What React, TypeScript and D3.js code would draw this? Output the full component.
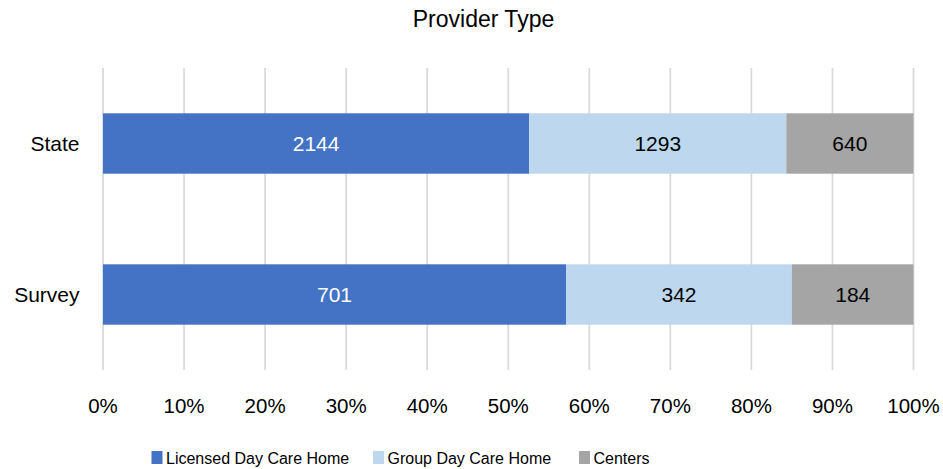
import * as d3 from "d3";
import { useEffect, useRef } from "react";

const categories = ["State", "Survey"];
const seriesNames = ["Licensed Day Care Home", "Group Day Care Home", "Centers"];
const licensed = [2144, 701];
const groupHome = [1293, 342];
const centers = [640, 184];
const colors = ["#4472C4", "#BDD7EE", "#A5A5A5"];
const labelColors = ["#ffffff", "#000000", "#000000"];
const ticks = [0, 0.1, 0.2, 0.3, 0.4, 0.5, 0.6, 0.7, 0.8, 0.9, 1];

const FONT = "'Liberation Sans', Arial, sans-serif";

function App() {
    const ref = useRef<SVGSVGElement>(null);

    useEffect(() => {
        document.body.style.margin = "0";

        const svg = d3.select(ref.current);
        svg.selectAll("*").remove();

        const left = 103;
        const right = 913.5;
        const top = 68;
        const bottom = 370;

        const rows = categories.map((c, i) => {
            const vals = [licensed[i], groupHome[i], centers[i]];
            const total = d3.sum(vals);
            let acc = 0;
            return {
                cat: c,
                segs: vals.map((v, k) => {
                    const s = { v, k, x0: acc / total, x1: (acc + v) / total };
                    acc += v;
                    return s;
                }),
            };
        });

        const x = d3.scaleLinear().domain([0, 1]).range([left, right]);
        const y = d3
            .scaleBand()
            .domain(categories)
            .range([top, bottom])
            .paddingInner(0.6)
            .paddingOuter(0.3);

        // title
        svg.append("text")
            .attr("x", 483.5)
            .attr("y", 27)
            .attr("text-anchor", "middle")
            .style("font-size", "23px")
            .attr("fill", "#000")
            .text("Provider Type");

        // gridlines
        svg.append("g")
            .selectAll("line")
            .data(ticks)
            .enter()
            .append("line")
            .attr("x1", d => x(d))
            .attr("x2", d => x(d))
            .attr("y1", top)
            .attr("y2", bottom)
            .attr("stroke", "#D9D9D9")
            .attr("stroke-width", 1.75);

        // tick labels
        svg.append("g")
            .selectAll("text")
            .data(ticks)
            .enter()
            .append("text")
            .attr("x", d => x(d))
            .attr("y", 413)
            .attr("text-anchor", "middle")
            .style("font-size", "20.5px")
            .text(d => d3.format(".0%")(d));

        // category labels
        svg.append("g")
            .selectAll("text")
            .data(categories)
            .enter()
            .append("text")
            .attr("x", 79.5)
            .attr("y", d => (y(d) || 0) + y.bandwidth() / 2)
            .attr("dy", "0.35em")
            .attr("text-anchor", "end")
            .style("font-size", "21px")
            .text(d => d);

        // bars
        const g = svg.append("g");
        rows.forEach(r => {
            const by = y(r.cat) || 0;
            const row = g.append("g");
            row.selectAll("rect")
                .data(r.segs)
                .enter()
                .append("rect")
                .attr("x", d => x(d.x0))
                .attr("y", by)
                .attr("width", d => x(d.x1) - x(d.x0))
                .attr("height", y.bandwidth())
                .attr("fill", d => colors[d.k]);

            row.selectAll("text")
                .data(r.segs)
                .enter()
                .append("text")
                .attr("x", d => (x(d.x0) + x(d.x1)) / 2)
                .attr("y", by + y.bandwidth() / 2)
                .attr("dy", "0.35em")
                .attr("text-anchor", "middle")
                .style("font-size", "21px")
                .attr("fill", d => labelColors[d.k])
                .text(d => d.v);
        });

        // legend
        const legendX = [151.5, 373, 579];
        const leg = svg.append("g");
        seriesNames.forEach((n, i) => {
            leg.append("rect")
                .attr("x", legendX[i])
                .attr("y", 451)
                .attr("width", 11)
                .attr("height", 13)
                .attr("fill", colors[i]);
            leg.append("text")
                .attr("x", legendX[i] + 14.5)
                .attr("y", 464)
                .style("font-size", "16px")
                .text(n);
        });
    }, []);

    return (
        <svg
            ref={ref}
            width={943}
            height={469}
            style={{ display: "block", fontFamily: FONT }}
        />
    );
}

export default App;
